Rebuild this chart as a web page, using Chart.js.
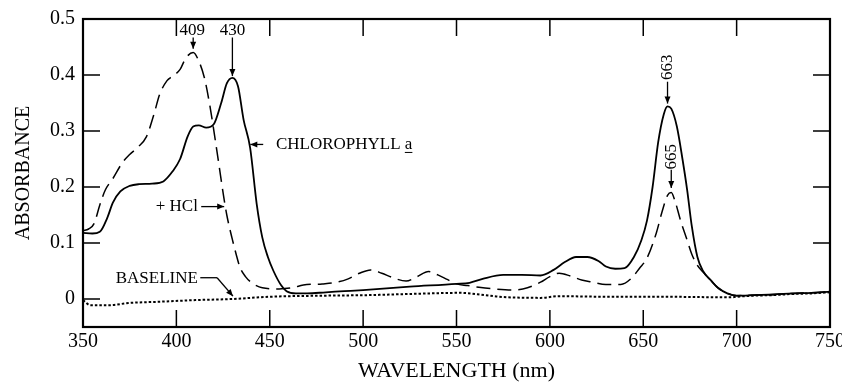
<!DOCTYPE html>
<html>
<head>
<meta charset="utf-8">
<script src="https://cdn.jsdelivr.net/npm/chart.js@4.4.1/dist/chart.umd.min.js"></script>
<style>
html,body{margin:0;padding:0;background:#fff;}
canvas{display:block;}
</style>
</head>
<body>
<canvas id="c" width="842" height="382"></canvas>
<script>
// ---- data ----
const xTicks = [350, 400, 450, 500, 550, 600, 650, 700, 750];
const yTicks = [0, 0.1, 0.2, 0.3, 0.4, 0.5];

const chlWavelength = [350,355,359,363,366,370,375,380,387,393,398,402,406,409,412,416,420,424,427,430,433,436,439.5,443,446,449,452,456,459,464,470,480,490,500,525,550,557,564,575,585,595,602,608,614,620,626,630,635,640,645,649,652,655,658,661,663,665,668,671,673.5,676,679,682,686,690,695,700,710,720,730,740,750];
const chlAbs = [0.118,0.117,0.12,0.145,0.172,0.192,0.202,0.205,0.206,0.21,0.228,0.25,0.29,0.308,0.31,0.306,0.312,0.35,0.385,0.395,0.38,0.32,0.27,0.17,0.11,0.075,0.05,0.025,0.014,0.01,0.01,0.012,0.014,0.016,0.022,0.027,0.029,0.036,0.043,0.043,0.042,0.052,0.066,0.075,0.075,0.068,0.058,0.054,0.055,0.075,0.105,0.14,0.2,0.28,0.33,0.344,0.34,0.308,0.25,0.195,0.13,0.075,0.05,0.034,0.02,0.01,0.006,0.007,0.008,0.01,0.011,0.013];

const hclWavelength = [350,353,356,359,362,366,371,375,379,384,388,391,395,398,402,405,409,412,415,418,421,423,425,427,430,432,434,437,440,446,455,462,468,478,486,492,498,504,510,516,523,529,535,540,545,550,556,562,570,580,588,595,600,605,611,617,623,630,638,644,648,652,657,660,663,665,667,670,673.5,676,679,682,686,690,695,700,710,720,730,740,750];
const hclAbs = [0.122,0.125,0.135,0.168,0.195,0.215,0.243,0.258,0.27,0.29,0.33,0.365,0.39,0.398,0.41,0.43,0.44,0.425,0.395,0.344,0.28,0.235,0.19,0.15,0.106,0.08,0.057,0.04,0.03,0.02,0.018,0.02,0.025,0.027,0.03,0.036,0.046,0.052,0.046,0.038,0.032,0.04,0.049,0.043,0.035,0.027,0.024,0.021,0.018,0.016,0.02,0.03,0.04,0.046,0.041,0.034,0.03,0.026,0.026,0.038,0.055,0.073,0.118,0.155,0.185,0.19,0.175,0.14,0.105,0.08,0.06,0.048,0.034,0.02,0.01,0.006,0.007,0.008,0.01,0.011,0.013];

const baseWavelength = [350,354,364,375,390,410,430,450,480,504,525,552,565,573,595,605,632,660,697,700,710,720,730,740,750];
const baseAbs = [-0.002,-0.011,-0.011,-0.007,-0.005,-0.002,0.0,0.004,0.006,0.007,0.009,0.011,0.007,0.004,0.002,0.005,0.004,0.004,0.003,0.004,0.006,0.007,0.009,0.01,0.012];

// annotation texts
const peakLabels = ['409', '430', '663', '665'];
const curveLabels = ['CHLOROPHYLL', 'a', '+ HCl', 'BASELINE'];

function pts(xs, ys){ return xs.map((x,i)=>({x:x, y:ys[i]})); }

const SERIF = '"Liberation Serif", "Times New Roman", serif';

const framePlugin = {
  id: 'frame',
  afterDraw(chart){
    const {ctx, chartArea:a, scales:{x, y}} = chart;
    ctx.save();
    ctx.strokeStyle = '#000';
    // inward ticks
    ctx.lineWidth = 1.5;
    const tl = 17;
    ctx.beginPath();
    xTicks.forEach(v=>{
      if (v===xTicks[0] || v===xTicks[xTicks.length-1]) return;
      const px = x.getPixelForValue(v);
      ctx.moveTo(px, a.bottom); ctx.lineTo(px, a.bottom - tl);
      ctx.moveTo(px, a.top); ctx.lineTo(px, a.top + tl);
    });
    yTicks.forEach(v=>{
      if (v===yTicks[yTicks.length-1]) return;
      const py = y.getPixelForValue(v);
      ctx.moveTo(a.left, py); ctx.lineTo(a.left + tl, py);
      if (v>0) { ctx.moveTo(a.right, py); ctx.lineTo(a.right - tl, py); }
    });
    ctx.stroke();
    // frame
    ctx.lineWidth = 2.2;
    ctx.strokeRect(a.left, a.top, a.right - a.left, a.bottom - a.top);

    // annotations
    ctx.fillStyle = '#000';
    ctx.lineWidth = 1.3;
    ctx.font = '17px ' + SERIF;
    const P = (nm, v) => [x.getPixelForValue(nm), y.getPixelForValue(v)];
    function arrow(x1,y1,x2,y2){
      ctx.beginPath(); ctx.moveTo(x1,y1); ctx.lineTo(x2,y2); ctx.stroke();
      const ang = Math.atan2(y2-y1, x2-x1), L = 7, W = 3;
      ctx.beginPath();
      ctx.moveTo(x2,y2);
      ctx.lineTo(x2 - L*Math.cos(ang) + W*Math.sin(ang), y2 - L*Math.sin(ang) - W*Math.cos(ang));
      ctx.lineTo(x2 - L*Math.cos(ang) - W*Math.sin(ang), y2 - L*Math.sin(ang) + W*Math.cos(ang));
      ctx.closePath(); ctx.fill();
    }
    // 409
    ctx.textAlign = 'center'; ctx.textBaseline = 'middle';
    let p = P(409, 0.48); ctx.fillText(peakLabels[0], p[0]-1, p[1]);
    let a1 = P(409, 0.467), a2 = P(409, 0.447); arrow(a1[0], a1[1], a2[0], a2[1]);
    // 430
    p = P(430, 0.48); ctx.fillText(peakLabels[1], p[0], p[1]);
    a1 = P(430, 0.467); a2 = P(430, 0.398); arrow(a1[0], a1[1], a2[0], a2[1]);
    // 663 rotated
    p = P(663, 0.414);
    ctx.save(); ctx.translate(p[0], p[1]); ctx.rotate(-Math.PI/2);
    ctx.fillText(peakLabels[2], 0, 0); ctx.restore();
    a1 = P(663, 0.388); a2 = P(663, 0.349); arrow(a1[0], a1[1], a2[0], a2[1]);
    // 665 rotated
    p = P(665, 0.254);
    ctx.save(); ctx.translate(p[0], p[1]); ctx.rotate(-Math.PI/2);
    ctx.fillText(peakLabels[3], 0, 0); ctx.restore();
    a1 = P(665, 0.231); a2 = P(665, 0.198); arrow(a1[0], a1[1], a2[0], a2[1]);

    // CHLOROPHYLL a
    a1 = P(446.5, 0.276); a2 = P(439.6, 0.276); arrow(a1[0], a1[1], a2[0], a2[1]);
    p = P(453.3, 0.276);
    ctx.textAlign = 'left';
    ctx.fillText(curveLabels[0] + ' ', p[0], p[1]);
    const w0 = ctx.measureText(curveLabels[0] + ' ').width;
    ctx.fillText(curveLabels[1], p[0] + w0, p[1]);
    const wa = ctx.measureText(curveLabels[1]).width;
    ctx.beginPath(); ctx.lineWidth = 1;
    ctx.moveTo(p[0] + w0, p[1] + 8); ctx.lineTo(p[0] + w0 + wa, p[1] + 8); ctx.stroke();
    ctx.lineWidth = 1.3;

    // + HCl
    ctx.textAlign = 'right';
    p = P(411.5, 0.165); ctx.fillText(curveLabels[2], p[0], p[1]);
    a1 = P(413.3, 0.165); a2 = P(425.6, 0.165); arrow(a1[0], a1[1], a2[0], a2[1]);

    // BASELINE
    p = P(411.5, 0.036); ctx.fillText(curveLabels[3], p[0], p[1]);
    const b1 = P(412.8, 0.038), b2 = P(421.8, 0.038), b3 = P(430.3, 0.005);
    ctx.beginPath(); ctx.moveTo(b1[0], b1[1]); ctx.lineTo(b2[0], b2[1]); ctx.stroke();
    arrow(b2[0], b2[1], b3[0], b3[1]);
    ctx.restore();
  }
};

new Chart(document.getElementById('c'), {
  type: 'scatter',
  data: {
    datasets: [
      { label: 'Chlorophyll a', data: pts(chlWavelength, chlAbs), showLine: true,
        borderColor: '#000', borderWidth: 1.8, cubicInterpolationMode: 'monotone', pointRadius: 0 },
      { label: '+ HCl', data: pts(hclWavelength, hclAbs), showLine: true,
        borderColor: '#000', borderWidth: 1.5, borderDash: [14, 7], cubicInterpolationMode: 'monotone', pointRadius: 0 },
      { label: 'Baseline', data: pts(baseWavelength, baseAbs), showLine: true,
        borderColor: '#000', borderWidth: 2, borderDash: [2.5, 2], cubicInterpolationMode: 'monotone', pointRadius: 0 }
    ]
  },
  options: {
    responsive: false,
    devicePixelRatio: 1,
    animation: false,
    layout: { padding: { top: 19, right: 12, left: 0, bottom: 0 } },
    plugins: { legend: { display: false }, tooltip: { enabled: false } },
    scales: {
      x: {
        type: 'linear', min: 350, max: 750,
        grid: { display: false, drawTicks: false },
        border: { display: false },
        afterBuildTicks: s => { s.ticks = xTicks.map(v => ({ value: v })); },
        afterFit: s => { s.height = 55; s.paddingLeft = 0; s.paddingRight = 0; },
        ticks: { color: '#000', font: { family: SERIF, size: 20 }, padding: 3, maxRotation: 0, autoSkip: false,
                 callback: v => String(v) },
        title: { display: true, text: 'WAVELENGTH (nm)', color: '#000', font: { family: SERIF, size: 22, lineHeight: 1 }, padding: { top: 0, bottom: 0 } }
      },
      y: {
        type: 'linear', min: -0.05, max: 0.5,
        grid: { display: false, drawTicks: false },
        border: { display: false },
        afterBuildTicks: s => { s.ticks = yTicks.map(v => ({ value: v })); },
        afterFit: s => { s.width = 83; s.paddingTop = 0; s.paddingBottom = 0; },
        ticks: { color: '#000', font: { family: SERIF, size: 20 }, padding: 8,
                 callback: v => (Math.abs(v) < 1e-9 ? '0' : v.toFixed(1)) },
        title: { display: true, text: 'ABSORBANCE', color: '#000', font: { family: SERIF, size: 20 }, padding: { top: 12, bottom: 0 } }
      }
    }
  },
  plugins: [framePlugin]
});
</script>
</body>
</html>
